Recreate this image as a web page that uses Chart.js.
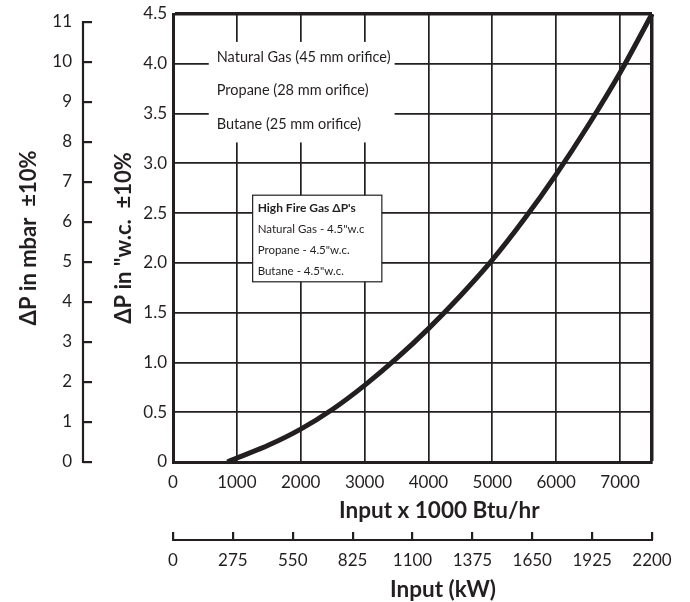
<!DOCTYPE html>
<html>
<head>
<meta charset="utf-8">
<script src="https://cdn.jsdelivr.net/npm/chart.js@4/dist/chart.umd.min.js"></script>
<style>
  html, body { margin: 0; padding: 0; background: #fff; }
  #wrap { width: 690px; height: 602px; }
</style>
</head>
<body>
<div id="wrap"><canvas id="dpChart"></canvas></div>
<script>
// Pressure drop curve
const btuInput = [850, 1000, 1500, 2000, 2500, 3000, 3500, 4000, 4500, 5000, 5500, 6000, 6500, 7000, 7500];
const dpInwc = [0, 0.04, 0.17, 0.33, 0.53, 0.77, 1.04, 1.34, 1.67, 2.03, 2.44, 2.89, 3.38, 3.91, 4.5];

// Axis ticks
const btuTicks = [0, 1000, 2000, 3000, 4000, 5000, 6000, 7000, 7500];
const btuLabels = ['0', '1000', '2000', '3000', '4000', '5000', '6000', '7000', ''];
const kwTicks = [0, 275, 550, 825, 1100, 1375, 1650, 1925, 2200];
const kwLabels = ['0', '275', '550', '825', '1100', '1375', '1650', '1925', '2200'];
const inwcTicks = [0, 0.5, 1, 1.5, 2, 2.5, 3, 3.5, 4, 4.5];
const inwcLabels = ['0', '0.5', '1.0', '1.5', '2.0', '2.5', '3.0', '3.5', '4.0', '4.5'];
const mbarTicks = [0, 1, 2, 3, 4, 5, 6, 7, 8, 9, 10, 11];
const mbarLabels = ['0', '1', '2', '3', '4', '5', '6', '7', '8', '9', '10', '11'];

// Titles and legend text
const btuTitle = 'Input x 1000 Btu/hr';
const kwTitle = 'Input (kW)';
const fuelNotes = ['Natural Gas (45 mm orifice)', 'Propane (28 mm orifice)', 'Butane (25 mm orifice)'];
const highFireTitle = "High Fire Gas \u0394P's";
const highFireNotes = ['Natural Gas - 4.5"w.c', 'Propane - 4.5"w.c.', 'Butane - 4.5"w.c.'];

const ink = '#231f20';

Chart.defaults.font.family = 'Lato';
Chart.defaults.color = ink;

function setTicks(values) {
    return scale => { scale.ticks = values.map(v => ({ value: v })); };
}

// extra drawing: free-standing axis lines, bottom titles and the two text boxes
const overlay = {
    id: 'overlay',
    afterDatasetsDraw(chart) {
        const { ctx, scales } = chart;
        const x = scales.x, y = scales.y;
        ctx.save();

        // fuel note box (white, no frame)
        let l = x.getPixelForValue(560), r = x.getPixelForValue(3470);
        let t = y.getPixelForValue(4.22), b = y.getPixelForValue(3.21);
        ctx.fillStyle = '#fff';
        ctx.fillRect(l, t, r - l, b - t);
        ctx.fillStyle = ink;
        ctx.font = '14.5px Lato';
        ctx.textBaseline = 'middle';
        fuelNotes.forEach((s, i) => ctx.fillText(s, l + 8, t + 15 + i * 33.5));

        // high fire box
        l = x.getPixelForValue(1247); r = x.getPixelForValue(3270);
        t = y.getPixelForValue(2.68); b = y.getPixelForValue(1.81);
        ctx.fillStyle = '#fff';
        ctx.fillRect(l, t, r - l, b - t);
        ctx.strokeStyle = ink;
        ctx.lineWidth = 1.2;
        ctx.strokeRect(l, t, r - l, b - t);
        ctx.fillStyle = ink;
        ctx.font = 'bold 12px Lato';
        ctx.fillText(highFireTitle, l + 5, t + 13);
        ctx.font = '11.5px Lato';
        highFireNotes.forEach((s, i) => ctx.fillText(s, l + 5, t + 34 + i * 21.3));
        ctx.restore();
    },
    afterDraw(chart) {
        const { ctx, scales } = chart;
        const x = scales.x, m = scales.mbar, k = scales.kw;
        ctx.save();
        ctx.strokeStyle = ink;
        ctx.lineWidth = 2.2;
        const mx = m.right - m.options.grid.tickLength;
        ctx.beginPath();
        ctx.moveTo(mx, m.getPixelForValue(0) + 1);
        ctx.lineTo(mx, m.getPixelForValue(11) - 1);
        ctx.stroke();
        const ky = k.top + k.options.grid.tickLength;
        ctx.beginPath();
        ctx.moveTo(k.getPixelForValue(0) - 1, ky);
        ctx.lineTo(k.getPixelForValue(2200) + 1, ky);
        ctx.stroke();

        // bottom axis titles sit a little right of centre in the original
        ctx.fillStyle = ink;
        ctx.font = 'bold 22.5px Lato';
        ctx.textAlign = 'center';
        ctx.textBaseline = 'middle';
        ctx.fillText(btuTitle, x.getPixelForValue(4170), x.bottom - 21);
        ctx.fillText(kwTitle, k.getPixelForValue(1240), k.bottom - 12);
        ctx.restore();
    }
};

const ctx = document.getElementById('dpChart').getContext('2d');
new Chart(ctx, {
    type: 'line',
    data: {
        datasets: [{
            data: btuInput.map((v, i) => ({ x: v, y: dpInwc[i] })),
            borderColor: ink,
            borderWidth: 5,
            pointRadius: 0,
            cubicInterpolationMode: 'monotone',
            clip: 4
        }]
    },
    options: {
        responsive: true,
        maintainAspectRatio: false,
        animation: false,
        layout: { padding: { top: 14, right: 38, bottom: 0, left: 8 } },
        plugins: { legend: { display: false }, tooltip: { enabled: false } },
        scales: {
            x: {
                type: 'linear', position: 'bottom', weight: 0,
                min: 0, max: 7500,
                afterBuildTicks: setTicks(btuTicks),
                afterFit: s => { s.height = 70; },
                ticks: { font: { size: 17 }, padding: 10, maxRotation: 0, autoSkip: false,
                         callback: (v, i) => btuLabels[i] },
                grid: { color: ink, drawTicks: false,
                        lineWidth: c => c.tick && c.tick.value === 7500 ? 3.5 : 1.7 },
                border: { color: ink, width: 3 }
            },
            kw: {
                type: 'linear', position: 'bottom', weight: 1,
                min: 0, max: 2200,
                afterBuildTicks: setTicks(kwTicks),
                afterFit: s => { s.height = 70; },
                ticks: { font: { size: 17 }, padding: 10, maxRotation: 0, autoSkip: false,
                         callback: (v, i) => kwLabels[i] },
                grid: { color: ink, lineWidth: 2.2, drawOnChartArea: false, tickLength: 8 },
                border: { display: false }
            },
            y: {
                type: 'linear', position: 'left', weight: 0,
                min: 0, max: 4.5,
                afterBuildTicks: setTicks(inwcTicks),
                afterFit: s => { s.width = 81; s.paddingTop = 0; s.paddingBottom = 0; },
                ticks: { font: { size: 17 }, padding: 6, callback: (v, i) => inwcLabels[i] },
                grid: { color: ink, drawTicks: false,
                        lineWidth: c => c.tick && c.tick.value === 4.5 ? 3.5 : 1.7 },
                border: { color: ink, width: 3 },
                title: { display: true, text: '\u0394P in "w.c.  \u00b110%',
                         font: { size: 22, weight: 'bold' }, padding: { top: 19, bottom: 6 } }
            },
            mbar: {
                type: 'linear', position: 'left', weight: 1,
                min: 0, max: 11.2,
                afterBuildTicks: setTicks(mbarTicks),
                afterFit: s => { s.width = 84; s.paddingTop = 0; s.paddingBottom = 0; },
                ticks: { font: { size: 17 }, padding: 11, callback: (v, i) => mbarLabels[i] },
                grid: { color: ink, lineWidth: 2.2, drawOnChartArea: false, tickLength: 9 },
                border: { display: false },
                title: { display: true, text: '\u0394P in mbar  \u00b110%',
                         font: { size: 22, weight: 'bold' }, padding: { top: 8, bottom: 6 } }
            }
        }
    },
    plugins: [overlay]
});
</script>
</body>
</html>
